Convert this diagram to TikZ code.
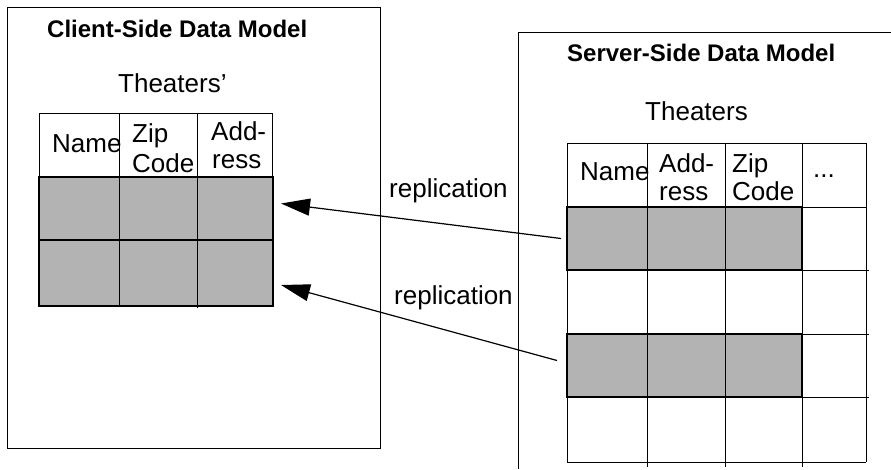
\documentclass[tikz,border=0pt]{standalone}
\usepackage{fontspec}
\setmainfont{Liberation Sans}
\usetikzlibrary{arrows.meta,calc}
\definecolor{cellgray}{RGB}{179,179,179}

\begin{document}
\begin{tikzpicture}[x=1pt,y=-1pt,
  lbl/.style={inner sep=0pt,anchor=base west,font=\fontsize{26}{30}\selectfont},
  ttl/.style={inner sep=0pt,anchor=base west,font=\bfseries\fontsize{24}{28}\selectfont},
  grid/.style={line width=1pt},
  rowbox/.style={draw,line width=2pt,fill=cellgray,inner sep=0pt,outer sep=0pt},
  repl/.style={-{Triangle[length=29pt,width=17pt]},line width=1.2pt}]

\useasboundingbox (0,0) rectangle (891,469);

% ---- client-side model ----
\draw[grid] (7,7) rectangle (380,448);
\node[ttl] (ctitle) at (47,37) {Client-Side Data Model};
\node[lbl] (ctab) at (118,92) {Theaters’};

\draw[grid] (39,177) -- (39,113) -- (272,113) -- (272,177);
\node[rowbox,minimum width=234pt,minimum height=63pt] (crow1) at (156,208.5) {};
\node[rowbox,minimum width=234pt,minimum height=66pt] (crow2) at (156,273) {};
\draw[grid] (119,113) -- (119,306);
\draw[grid] (197,113) -- (197,308);

\node[lbl] (cname) at (52,152) {Name};
\node[lbl] (czip)  at (132,142) {Zip};
\node[lbl] (ccode) at (132,172) {Code};
\node[lbl] (cadd)  at (211,140) {Add-};
\node[lbl] (cress) at (212,168) {ress};

% ---- server-side model ----
\draw[grid] (518,469) -- (518,32) -- (891,32);
\node[ttl] (stitle) at (567,61) {Server-Side Data Model};
\node[lbl] (stab) at (645,120) {Theaters};

\node[rowbox,minimum width=235pt,minimum height=63pt] (srow1) at (684.5,238.5) {};
\node[rowbox,minimum width=235pt,minimum height=63pt] (srow3) at (684.5,365.5) {};

\draw[grid] (567,143) -- (866,143);
\draw[grid] (567,207) -- (866,207);
\draw[grid] (802,270) -- (869,270);
\draw[grid] (567,334) -- (869,334);
\draw[grid] (802,397) -- (869,397);
\draw[grid] (567,462) -- (866,462);
\draw[grid] (802,270) -- (567,270);
\draw[grid] (802,397) -- (567,397);
\draw[grid] (567,143) -- (567,462);
\draw[grid] (647,143) -- (647,467);
\draw[grid] (725,143) -- (725,467);
\draw[grid] (802,143) -- (802,467);
\draw[grid] (866,143) -- (866,462);
\node[rowbox,minimum width=235pt,minimum height=63pt,fill=none] at (srow1) {};
\node[rowbox,minimum width=235pt,minimum height=63pt,fill=none] at (srow3) {};

\node[lbl] (sname) at (580,180) {Name};
\node[lbl] (sadd)  at (659,172) {Add-};
\node[lbl] (sress) at (659,200) {ress};
\node[lbl] (szip)  at (732,172) {Zip};
\node[lbl] (scode) at (732,200) {Code};
\node[lbl] (smore) at (813,177) {...};

% ---- replication arrows ----
\node[lbl] (r1) at (389,197) {replication};
\node[lbl] (r2) at (394,304) {replication};
\draw[repl] ($(srow1.west)+(-6,0)$) -- ($(crow1.east)+(8,-5)$);
\draw[repl] ($(srow3.west)+(-10,-5)$) -- ($(crow2.east)+(8,12)$);
\end{tikzpicture}
\end{document}
